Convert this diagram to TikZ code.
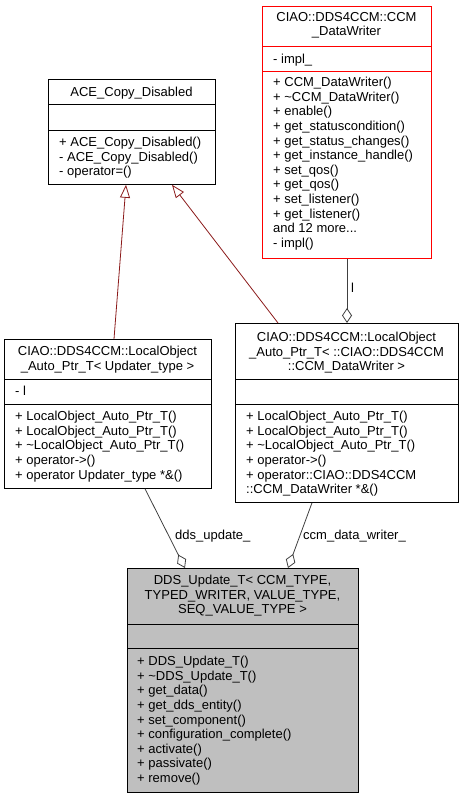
\documentclass[tikz,border=0pt]{standalone}
\usepackage{fontspec}
\setmainfont{Liberation Sans}
\usetikzlibrary{arrows.meta}
\usetikzlibrary{positioning}

\definecolor{firebrick}{HTML}{8B1A1A}
\definecolor{edgegrey}{HTML}{404040}
\definecolor{grey75}{HTML}{BFBFBF}

\begin{document}
\begin{tikzpicture}[x=1pt,y=-1pt,
    every node/.style={font=\fontsize{13}{14.6}\selectfont, inner sep=0pt},
    box/.style={draw=black, line width=0.8pt, anchor=north west, fill=white},
    divider/.style={black, line width=0.8pt},
    title/.style={anchor=north, align=center},
    members/.style={anchor=north west, align=left},
    inherit/.style={draw=firebrick, line width=0.8pt, -{Triangle[open, length=13pt, width=10pt]}},
    aggr/.style={draw=edgegrey, line width=0.8pt, -{Diamond[open, length=15pt, width=10pt]}}]
    \useasboundingbox (0,0) rectangle (463,797);

    % class boxes
    \node[box, draw=red, minimum width=169pt, minimum height=252pt] (writer) at (262,6) {};
    \node[box, minimum width=167pt, minimum height=105pt] (ace) at (48,79) {};
    \node[box, minimum width=207pt, minimum height=149pt] (upd) at (4,339) {};
    \node[box, minimum width=223pt, minimum height=179pt] (cdw) at (235,323) {};
    \node[box, fill=grey75, minimum width=231pt, minimum height=224pt] (main) at (127,568) {};

    % compartments
    \draw[divider, red] (writer.west |- 0,46) -- (writer.east |- 0,46);
    \draw[divider, red] (writer.west |- 0,71) -- (writer.east |- 0,71);
    \draw[divider] (ace.west |- 0,104) -- (ace.east |- 0,104);
    \draw[divider] (ace.west |- 0,130) -- (ace.east |- 0,130);
    \draw[divider] (upd.west |- 0,379) -- (upd.east |- 0,379);
    \draw[divider] (upd.west |- 0,404) -- (upd.east |- 0,404);
    \draw[divider] (cdw.west |- 0,379) -- (cdw.east |- 0,379);
    \draw[divider] (cdw.west |- 0,404) -- (cdw.east |- 0,404);
    \draw[divider] (main.west |- 0,624) -- (main.east |- 0,624);
    \draw[divider] (main.west |- 0,648) -- (main.east |- 0,648);

    % texts
    \node[title] (writer-name) at (346.5,12) {CIAO::DDS4CCM::CCM\\\_DataWriter};
    \node[members] (writer-attr) at (273,54) {- impl\_};
    \node[members] (writer-ops) at (273,77) {+ CCM\_DataWriter()\\+ \textasciitilde CCM\_DataWriter()\\+ enable()\\+ get\_statuscondition()\\+ get\_status\_changes()\\+ get\_instance\_handle()\\+ set\_qos()\\+ get\_qos()\\+ set\_listener()\\+ get\_listener()\\and 12 more...\\- impl()};

    \node[title] (ace-name) at (131.5,86.5) {ACE\_Copy\_Disabled};
    \node[members] (ace-ops) at (59,137) {+ ACE\_Copy\_Disabled()\\- ACE\_Copy\_Disabled()\\- operator=()};

    \node[title] (upd-name) at (107.5,346) {CIAO::DDS4CCM::LocalObject\\\_Auto\_Ptr\_T< Updater\_type >};
    \node[members] (upd-attr) at (15,386) {- l};
    \node[members] (upd-ops) at (15,411) {+ LocalObject\_Auto\_Ptr\_T()\\+ LocalObject\_Auto\_Ptr\_T()\\+ \textasciitilde LocalObject\_Auto\_Ptr\_T()\\+ operator->()\\+ operator Updater\_type *\&()};

    \node[title] (cdw-name) at (346.5,332) {CIAO::DDS4CCM::LocalObject\\\_Auto\_Ptr\_T< ::CIAO::DDS4CCM\\::CCM\_DataWriter >};
    \node[members] (cdw-ops) at (246,411) {+ LocalObject\_Auto\_Ptr\_T()\\+ LocalObject\_Auto\_Ptr\_T()\\+ \textasciitilde LocalObject\_Auto\_Ptr\_T()\\+ operator->()\\+ operator::CIAO::DDS4CCM\\::CCM\_DataWriter *\&()};

    \node[title] (main-name) at (242.5,575) {DDS\_Update\_T< CCM\_TYPE,\\TYPED\_WRITER, VALUE\_TYPE,\\SEQ\_VALUE\_TYPE >};
    \node[members] (main-ops) at (137,656) {+ DDS\_Update\_T()\\+ \textasciitilde DDS\_Update\_T()\\+ get\_data()\\+ get\_dds\_entity()\\+ set\_component()\\+ configuration\_complete()\\+ activate()\\+ passivate()\\+ remove()};

    % relations
    \draw[inherit] ([xshift=110pt]upd.north west) -- ([xshift=78pt]ace.south west);
    \draw[inherit] ([xshift=43pt]cdw.north west) -- ([xshift=124pt]ace.south west);
    \draw[aggr] ([xshift=85pt]writer.south west) -- ([xshift=112pt]cdw.north west);
    \draw[aggr] ([xshift=141pt]upd.south west) -- ([xshift=58pt]main.north west);
    \draw[aggr] ([xshift=77pt]cdw.south west) -- ([xshift=161pt]main.north west);
    \node[anchor=west] (l-label) at (351,288) {l};
    \node[anchor=west] (upd-label) at (175,536) {dds\_update\_};
    \node[anchor=west] (cdw-label) at (303,536) {ccm\_data\_writer\_};
\end{tikzpicture}
\end{document}
